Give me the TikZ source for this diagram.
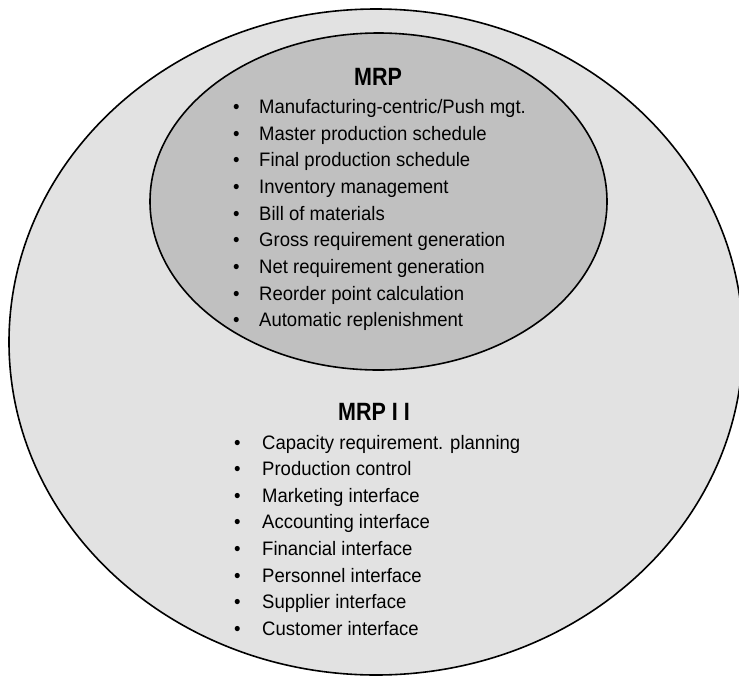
\documentclass[tikz,border=0pt]{standalone}
\usepackage{fontspec}
\setmainfont{Liberation Sans}
\newfontfamily\ttlfont[FakeStretch=0.86]{Liberation Sans}
\newfontfamily\itmfont[FakeStretch=0.95]{Liberation Sans}
\usetikzlibrary{shapes.geometric}
\definecolor{outerfill}{RGB}{226,226,226}
\definecolor{innerfill}{RGB}{192,192,192}
\begin{document}
\begin{tikzpicture}[x=1pt,y=-1pt,
  blob/.style={ellipse,draw=black,line width=1.6pt,inner sep=0pt},
  ttl/.style={anchor=base,font=\ttlfont\fontsize{25}{25}\selectfont\bfseries,inner sep=0pt},
  itm/.style={anchor=base west,font=\itmfont\fontsize{19.5}{19.5}\selectfont,inner sep=0pt}]
\useasboundingbox (0,0) rectangle (739,678);
\node[blob,fill=outerfill,minimum width=734pt,minimum height=666pt] (outer) at (376,342) {};
\node[blob,fill=innerfill,minimum width=457pt,minimum height=337pt] (inner) at (378.5,201.5) {};
\node[ttl] (mrp) at (378,85) {MRP};
\foreach \t [count=\i] in {Manufacturing-centric/Push mgt.,Master production schedule,Final production schedule,Inventory management,Bill of materials,Gross requirement generation,Net requirement generation,Reorder point calculation,Automatic replenishment}
  \node[itm] (m\i) at (233,{113.3+26.7*(\i-1)}) {\makebox[26pt][l]{\textbullet}\t};
\node[ttl] (mrpii) at (374,420) {MRP I I};
\foreach \t [count=\i] in {Capacity requirement. planning,Production control,Marketing interface,Accounting interface,Financial interface,Personnel interface,Supplier interface,Customer interface}
  \node[itm] (q\i) at (234,{449.3+26.55*(\i-1)}) {\makebox[28pt][l]{\textbullet}\t};
\end{tikzpicture}
\end{document}
